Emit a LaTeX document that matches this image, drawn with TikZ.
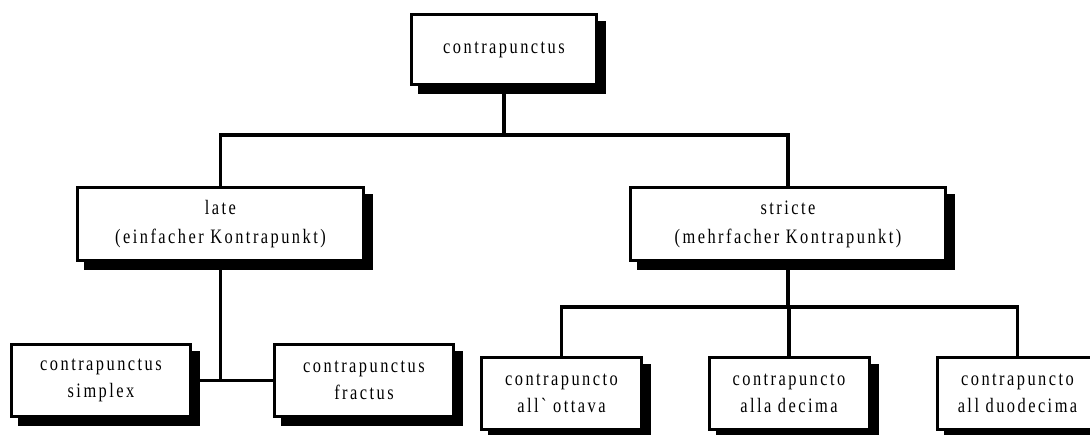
\documentclass[tikz,border=0pt]{standalone}
\usepackage{fontspec}
\usetikzlibrary{shadows}
\newfontfamily\boxfont[FakeStretch=0.8,LetterSpace=12]{Liberation Serif}

\tikzset{
  treebox/.style={
    rectangle, draw=black, fill=white, line width=3pt,
    align=center, inner sep=0pt,
    font=\boxfont\fontsize{20.5}{29}\selectfont,
    drop shadow={shadow xshift=8pt, shadow yshift=-8pt,
                 fill=black, draw=black, line width=3pt, opacity=1}
  },
  leafbox/.style={treebox, font=\boxfont\fontsize{20.5}{27.5}\selectfont},
  link/.style={draw=black, line width=3.5pt}
}

\begin{document}
\begin{tikzpicture}[x=1pt, y=-1pt]
  \useasboundingbox (0,0) rectangle (1090,434);
  \clip (0,0) rectangle (1090,434);

  % junction points of the branching lines
  \coordinate (j1) at (505,135);
  \coordinate (j2) at (789,307);

  % root
  \node[treebox, minimum width=185pt, minimum height=70pt] (top) at (504,49.5) {contrapunctus};

  % second level
  \node[treebox, minimum width=286pt, minimum height=73pt] (late) at (220.5,224)
    {late\\(einfacher Kontrapunkt)};
  \node[treebox, minimum width=315pt, minimum height=73pt] (stricte) at (788,224)
    {stricte\\(mehrfacher Kontrapunkt)};

  % leaves of "late"
  \node[leafbox, minimum width=179pt, minimum height=72pt] (simplex) at (101,380.5)
    {contrapunctus\\simplex};
  \node[leafbox, minimum width=179pt, minimum height=72pt] (fractus) at (364,380.5)
    {contrapunctus\\fractus};

  % leaves of "stricte"
  \node[leafbox, minimum width=160pt, minimum height=72pt] (ottava) at (561.5,393.5)
    {contrapuncto\\all\char96{} ottava};
  \node[leafbox, minimum width=160pt, minimum height=72pt] (decima) at (789,393.5)
    {contrapuncto\\alla decima};
  \node[leafbox, minimum width=160pt, minimum height=72pt] (duodecima) at (1017.5,393.5)
    {contrapuncto\\all duodecima};

  % connectors
  \draw[link] (top.south) -- (top.south |- j1);
  \draw[link] (late.north) |- (j1) -| (stricte.north);
  \draw[link] (late.south) -- (late.south |- simplex.east);
  \draw[link] (simplex.east) -- (fractus.west);
  \draw[link] (stricte.south) -- (stricte.south |- j2);
  \draw[link] (ottava.north) |- (j2) -| (duodecima.north);
  \draw[link] (decima.north) -- (decima.north |- j2);
\end{tikzpicture}
\end{document}
